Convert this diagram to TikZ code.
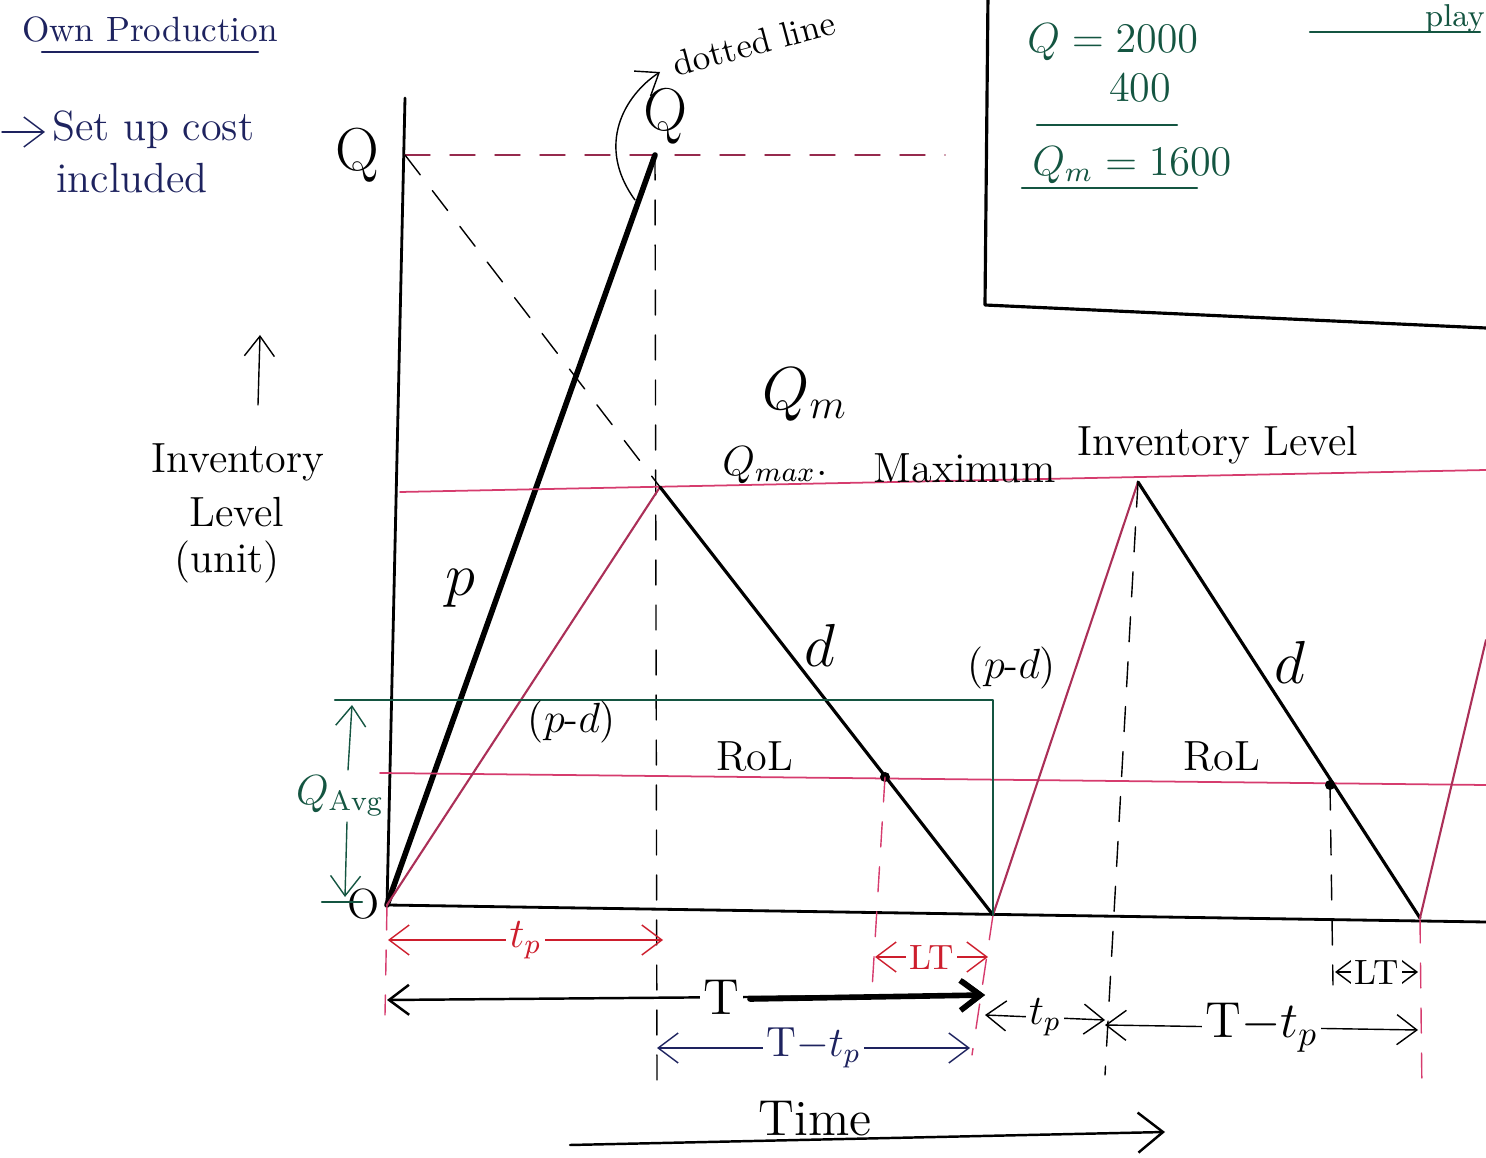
\documentclass[tikz,border=0pt]{standalone}
\usetikzlibrary{arrows.meta}
\definecolor{pinkline}{RGB}{214,60,110}
\definecolor{redlab}{RGB}{205,30,45}
\definecolor{inkgreen}{RGB}{20,85,65}
\definecolor{inknavy}{RGB}{30,35,95}
\begin{document}
\begin{tikzpicture}[line cap=round,line join=round,
		barb/.style={-{Straight Barb[length=2mm,width=3mm]}},
		dimline/.style={draw=#1,{Straight Barb[length=2mm,width=3mm]}-{Straight Barb[length=2mm,width=3mm]}},
		hand/.style={font=\large},
		dashv/.style={dash pattern=on 2.5mm off 2mm}]
	\useasboundingbox (0,0) rectangle (14.86,-11.58);
	
	% punkter
	\coordinate (O) at (3.87,-9.05);
	\coordinate (Qtop) at (6.55,-1.55);
	\coordinate (Qmax) at (6.60,-4.87);
	\coordinate (E1) at (9.93,-9.15);
	\coordinate (Qmax2) at (11.38,-4.82);
	\coordinate (E2) at (14.20,-9.18);
	\coordinate (R1) at (8.85,-7.77);
	\coordinate (R2) at (13.30,-7.85);
	
	% akser
	\path[draw=black,line width=0.8pt] (4.05,-0.98) -- (O) -- (14.86,-9.22);
	\node[hand] (Olab) at (3.64,-9.04) {O};
	
	% Q niveau
	\path[draw=pinkline!70!black,dashv] (4.05,-1.55) -- (9.45,-1.55);
	\path[draw=black,dashv] (4.05,-1.55) -- (Qmax);
	\path[draw=black,dashv] (Qtop) -- (6.57,-10.80);
	\path[draw=black,line width=1.6pt] (O) -- (Qtop);
	\node[font=\LARGE] (Qlab) at (3.57,-1.55) {Q};
	
	% Qmax og ROL linjer
	\path[draw=pinkline,line width=0.5pt] (4.00,-4.92) -- (14.86,-4.70);
	\path[draw=pinkline,line width=0.5pt] (3.80,-7.73) -- (14.86,-7.85);
	
	% cyklus 1
	\path[draw=pinkline!80!black,line width=0.6pt] (O) -- (Qmax);
	\path[draw=black,line width=0.9pt] (Qmax) -- (E1);
	\fill (R1) circle (0.05);
	\path[draw=pinkline,dashv] (R1) -- (8.72,-9.90);
	
	% cyklus 2
	\path[draw=pinkline!80!black,line width=0.6pt] (E1) -- (Qmax2);
	\path[draw=black,line width=0.9pt] (Qmax2) -- (E2);
	\path[draw=black,dashv] (Qmax2) -- (11.05,-10.75);
	\fill (R2) circle (0.05);
	\path[draw=black,dashv] (R2) -- (13.33,-9.85);
	\path[draw=pinkline!80!black,line width=0.6pt] (E2) -- (14.86,-6.40);
	
	% lodrette hjaelpelinjer
	\path[draw=pinkline,dashv] (O) -- (3.85,-10.15);
	\path[draw=pinkline,dashv] (E1) -- (9.72,-10.55);
	\path[draw=pinkline,dashv] (E2) -- (14.22,-10.95);
	
	% gennemsnit
	\path[draw=inkgreen,line width=0.7pt] (3.35,-7.00) -- (9.93,-7.00) -- (E1);
	\path[draw=inkgreen,line width=0.7pt] (3.22,-9.02) -- (3.62,-9.02);
	\path[draw=inkgreen,barb] (3.48,-7.70) -- (3.52,-7.05);
	\path[draw=inkgreen,barb] (3.47,-8.22) -- (3.45,-8.97);
	\node[hand,text=inkgreen] (Qavg) at (3.40,-7.96) {$Q_{\mathrm{Avg}}$};
	
	% tekster i grafen
	\node[font=\LARGE] (plab) at (4.60,-5.88) {$p$};
	\node[hand] (pd1) at (5.72,-7.22) {($p$-$d$)};
	\node[font=\LARGE] (d1) at (8.20,-6.45) {$d$};
	\node[hand] (pd2) at (10.12,-6.68) {($p$-$d$)};
	\node[font=\LARGE] (d2) at (12.90,-6.62) {$d$};
	\node[hand] (rol1) at (7.55,-7.57) {RoL};
	\node[hand] (rol2) at (12.22,-7.57) {RoL};
	\node[font=\LARGE] (Qm) at (8.05,-3.95) {$Q_m$};
	\node[hand] (Qmx) at (7.75,-4.65) {$Q_{max}$.};
	\node[hand] (maxi) at (9.65,-4.68) {Maximum};
	\node[hand] (invl) at (12.18,-4.45) {Inventory Level};
	
	% Q med pil
	\node[font=\LARGE,rotate=-10] (Qtop2) at (6.65,-1.15) {Q};
	\path[draw=black,barb] (6.35,-2.00) ..controls(5.95,-1.45)and(6.25,-0.95)..(6.60,-0.72);
	\node[font=\normalsize,rotate=15,anchor=south west,inner sep=1pt] (dotl) at (6.74,-0.82) {dotted line};
	
	% y-akse tekst
	\path[draw=black,barb] (2.58,-4.05) -- (2.60,-3.35);
	\node[hand] (inv) at (2.38,-4.62) {Inventory};
	\node[hand] (lev) at (2.37,-5.12) {Level};
	\node[hand] (unit) at (2.27,-5.62) {(unit)};
	
	% overskrift
	\node[font=\normalsize,text=inknavy] (own) at (1.50,-0.30) {Own Production};
	\path[draw=inknavy,line width=0.7pt] (0.42,-0.52) -- (2.58,-0.52);
	\path[draw=inknavy,barb] (0.02,-1.32) -- (0.45,-1.32);
	\node[hand,text=inknavy,anchor=west,inner sep=1pt] (setup) at (0.48,-1.30) {Set up cost};
	\node[hand,text=inknavy] (incl) at (1.32,-1.78) {included};
	
	% tidsmaal
	\path[dimline=redlab] (3.88,-9.40) -- node[hand,fill=white,text=redlab,inner sep=1pt] (tp1) {$t_p$} (6.63,-9.40);
	\path[dimline=redlab] (8.75,-9.57) -- node[font=\normalsize,fill=white,text=redlab,inner sep=1pt] (lt1) {LT} (9.88,-9.57);
	\path[dimline=black,line width=0.7pt] (3.87,-10.00) -- node[font=\Large,fill=white,inner sep=1pt,pos=0.56] (T1) {T} (9.85,-9.95);
	\path[draw=black,line width=1.6pt,-{Straight Barb[length=2mm,width=3mm]}] (7.50,-9.99) -- (9.85,-9.95);
	\path[dimline=inknavy] (6.57,-10.48) -- node[hand,fill=white,text=inknavy,inner sep=1pt] (Ttp1) {T$-t_p$} (9.70,-10.48);
	\path[dimline=black] (9.85,-10.15) -- node[hand,fill=white,inner sep=1pt] (tp2) {$t_p$} (11.05,-10.20);
	\path[dimline=black] (11.05,-10.25) -- node[font=\Large,fill=white,inner sep=1pt] (Ttp2) {T$-t_p$} (14.18,-10.30);
	\path[dimline=black] (13.35,-9.72) -- node[font=\normalsize,fill=white,inner sep=1pt] (lt2) {LT} (14.18,-9.72);
	
	% tid
	\path[draw=black,line width=0.7pt,-{Straight Barb[length=2.5mm,width=4mm]}] (5.70,-11.45) -- (11.65,-11.32);
	\node[font=\Large,anchor=south,inner sep=1pt] (time) at (8.15,-11.40) {Time};
	
	% boks
	\path[draw=black,line width=0.9pt] (9.88,0.05) -- (9.85,-3.05) -- (14.86,-3.28);
	\node[hand,text=inkgreen,anchor=west] (qv) at (10.15,-0.42) {$Q = 2000$};
	\node[hand,text=inkgreen] (fh) at (11.40,-0.88) {400};
	\path[draw=inkgreen,line width=0.7pt] (10.37,-1.25) -- (11.77,-1.25);
	\node[hand,text=inkgreen,anchor=west] (qmv) at (10.20,-1.65) {$Q_m = 1600$};
	\path[draw=inkgreen,line width=0.7pt] (10.22,-1.88) -- (11.97,-1.88);
	\node[font=\small,text=inkgreen,anchor=base,inner sep=1pt] (play) at (14.55,-0.27) {play};
	\path[draw=inkgreen,line width=0.7pt] (13.10,-0.32) -- (14.80,-0.32);
\end{tikzpicture}
\end{document}
